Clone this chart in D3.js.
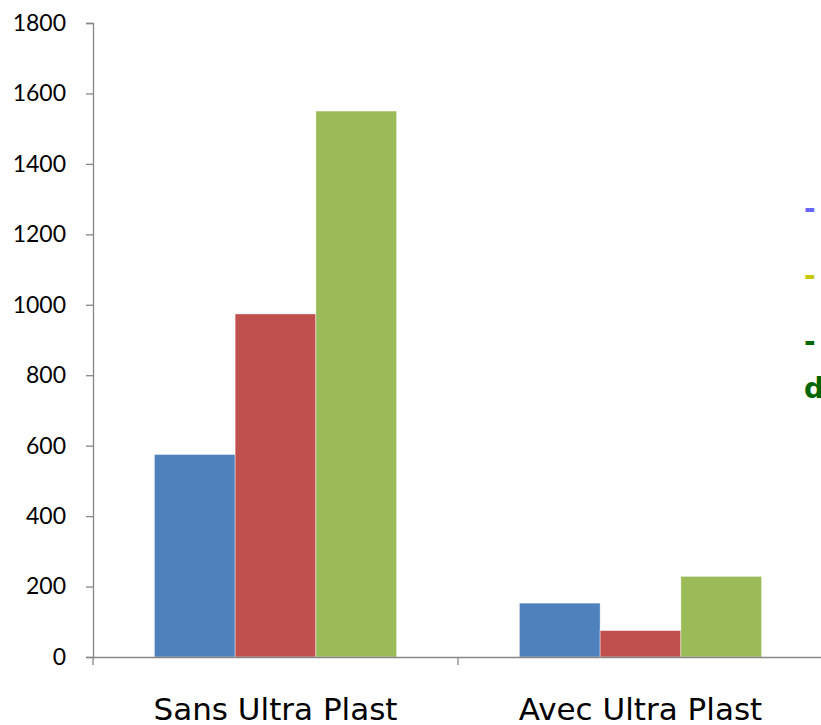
<!DOCTYPE html>
<html><head><meta charset="utf-8">
<script src="https://cdn.jsdelivr.net/npm/d3@7"></script>
<style>html,body{margin:0;padding:0;background:#fff;overflow:hidden}</style>
</head><body>
<svg id="c" width="821" height="725"></svg>
<script>
const categories = ["Sans Ultra Plast", "Avec Ultra Plast"];
const seriesNames = ["s1", "s2", "s3"];
const series1 = [575, 153];
const series2 = [974, 75];
const series3 = [1550, 229];
const yTicks = [0, 200, 400, 600, 800, 1000, 1200, 1400, 1600, 1800];
const legendLines = ["-", "-", "-", "d"];

(function () {
const colors = ["#4f81bd", "#c0504d", "#9bbb59"];
const legendColors = ["#6666ff", "#c8c800", "#006600", "#006600"];
const svg = d3.select("#c");
const mLeft = 93, mRight = 823, mTop = 23, mBottom = 657;
const y = d3.scaleLinear().domain([0, 1800]).range([mBottom, mTop]);
const x = d3.scaleBand().domain(categories).range([mLeft, mRight]).paddingInner(0).paddingOuter(0);
const inner = d3.scaleBand().domain(seriesNames).range([0, x.bandwidth()]).paddingOuter(0.76).paddingInner(0);
const data = categories.map((c, i) => ({c, v: [series1[i], series2[i], series3[i]]}));

const g = svg.append("g");
data.forEach(d => {
  d.v.forEach((v, j) => {
    g.append("rect")
      .attr("x", x(d.c) + inner(seriesNames[j]))
      .attr("y", y(v))
      .attr("width", inner.bandwidth())
      .attr("height", y(0) - y(v))
      .attr("fill", colors[j])
      .attr("stroke", "rgba(255,255,255,0.6)")
      .attr("stroke-width", 0.7);
  });
});

const ya = svg.append("g").attr("transform", `translate(${mLeft},0)`)
  .call(d3.axisLeft(y).tickValues(yTicks).tickSize(7).tickPadding(20).tickFormat(d3.format("d")));
ya.select(".domain").attr("stroke", "#868686").attr("stroke-width", 1.3);
ya.selectAll(".tick line").attr("stroke", "#868686").attr("stroke-width", 1.3);
ya.selectAll(".tick text").attr("font-family", "Lato, 'Open Sans', sans-serif").attr("font-size", 23).attr("fill", "#000");

const xa = svg.append("g").attr("transform", `translate(0,${mBottom})`)
  .call(d3.axisBottom(x).tickSize(0));
xa.select(".domain").attr("stroke", "#868686").attr("stroke-width", 1.3);
xa.selectAll(".tick text").attr("y", 63).attr("dy", null)
  .attr("font-family", "'DejaVu Sans', Verdana, sans-serif").attr("font-size", 31).attr("fill", "#000");
const seps = [mLeft, x(categories[1])];
svg.append("g").selectAll("line").data(seps).join("line")
  .attr("x1", d => d).attr("x2", d => d)
  .attr("y1", mBottom).attr("y2", mBottom + 8)
  .attr("stroke", "#868686").attr("stroke-width", 1.3);

const ly = [218, 285, 351, 398];
svg.append("g").selectAll("text").data(legendLines).join("text")
  .attr("x", 804).attr("y", (d, i) => ly[i])
  .attr("font-family", "'DejaVu Sans', Verdana, sans-serif")
  .attr("font-weight", "bold").attr("font-size", 28)
  .attr("fill", (d, i) => legendColors[i])
  .text(d => d);
})();
</script>
</body></html>
